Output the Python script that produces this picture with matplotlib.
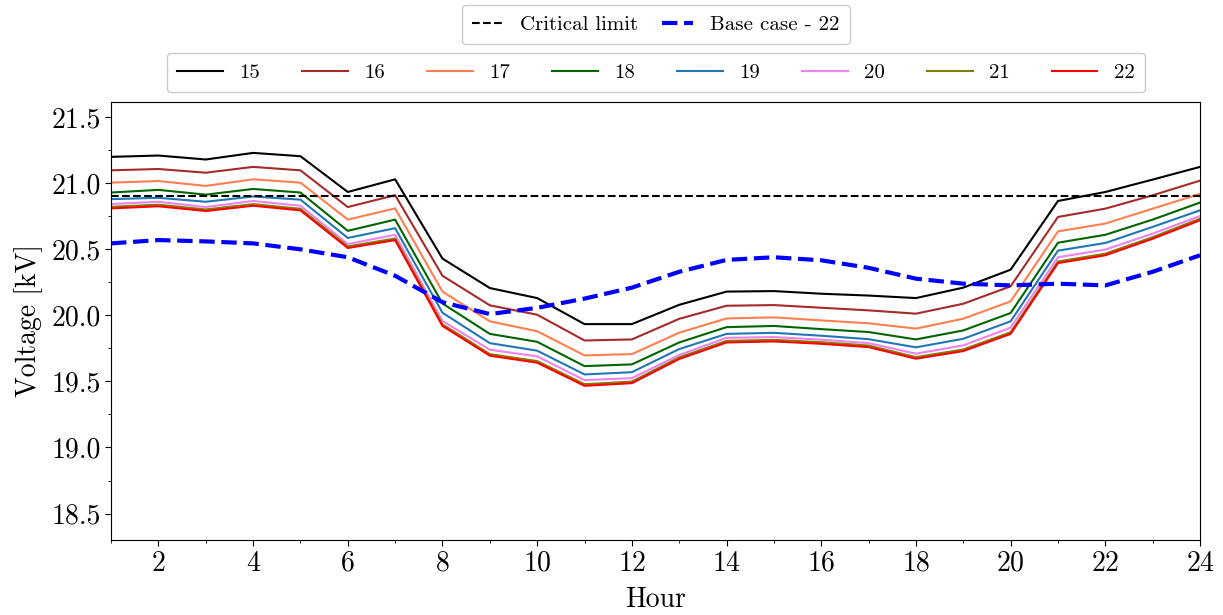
import matplotlib
matplotlib.use("Agg")
import matplotlib.pyplot as plt
from matplotlib.ticker import MultipleLocator
import numpy as np

plt.rcParams['font.family'] = 'serif'
plt.rcParams['font.serif'] = ['cmr10', 'DejaVu Serif']
plt.rcParams['mathtext.fontset'] = 'cm'
plt.rcParams['axes.formatter.use_mathtext'] = True

hours = list(range(1, 25))

v15 = [21.20, 21.21, 21.18, 21.23, 21.205, 20.934, 21.03, 20.43, 20.207, 20.131, 19.934, 19.934,
       20.08, 20.18, 20.184, 20.164, 20.15, 20.131, 20.21, 20.346, 20.866, 20.934, 21.028, 21.124]
v16 = [21.098, 21.108, 21.08, 21.124, 21.098, 20.82, 20.91, 20.30, 20.076, 20.005, 19.81, 19.818,
       19.974, 20.073, 20.078, 20.058, 20.038, 20.013, 20.088, 20.22, 20.745, 20.808, 20.909, 21.02]
v17 = [21.005, 21.017, 20.98, 21.03, 21.005, 20.725, 20.81, 20.18, 19.955, 19.88, 19.697, 19.707,
       19.869, 19.977, 19.985, 19.962, 19.94, 19.90, 19.975, 20.106, 20.636, 20.695, 20.808, 20.92]
v18 = [20.93, 20.95, 20.914, 20.957, 20.93, 20.64, 20.725, 20.09, 19.86, 19.80, 19.616, 19.629,
       19.795, 19.911, 19.92, 19.896, 19.874, 19.818, 19.886, 20.018, 20.55, 20.61, 20.725, 20.854]
v19 = [20.88, 20.89, 20.86, 20.90, 20.876, 20.586, 20.66, 20.02, 19.79, 19.733, 19.553, 19.57,
       19.745, 19.86, 19.868, 19.846, 19.82, 19.758, 19.823, 19.955, 20.49, 20.548, 20.67, 20.795]
v20 = [20.843, 20.86, 20.82, 20.866, 20.83, 20.54, 20.61, 19.957, 19.74, 19.69, 19.51, 19.525,
       19.70, 19.83, 19.836, 19.816, 19.79, 19.71, 19.773, 19.907, 20.44, 20.498, 20.619, 20.752]
v21 = [20.822, 20.838, 20.802, 20.842, 20.807, 20.522, 20.582, 19.932, 19.707, 19.654, 19.479, 19.499,
       19.682, 19.807, 19.815, 19.797, 19.772, 19.684, 19.742, 19.872, 20.408, 20.467, 20.592, 20.732]
v22 = [20.81, 20.826, 20.79, 20.83, 20.795, 20.51, 20.57, 19.92, 19.695, 19.642, 19.467, 19.487,
       19.67, 19.795, 19.803, 19.785, 19.76, 19.672, 19.73, 19.86, 20.396, 20.455, 20.58, 20.72]
base22 = [20.545, 20.57, 20.56, 20.545, 20.50, 20.44, 20.30, 20.10, 20.01, 20.057, 20.127, 20.21,
          20.33, 20.42, 20.44, 20.417, 20.36, 20.278, 20.24, 20.227, 20.24, 20.227, 20.33, 20.455]
critical_limit = 20.9

series = [("15", v15, "black"), ("16", v16, "brown"), ("17", v17, "coral"),
          ("18", v18, "darkgreen"), ("19", v19, "tab:blue"), ("20", v20, "violet"),
          ("21", v21, "olive"), ("22", v22, "red")]

fig = plt.figure(figsize=(12.23, 6.15), dpi=100)
ax = fig.add_axes([0.0908, 0.122, 0.8904, 0.7121])

handles = []
for label, vals, col in series:
    h, = ax.plot(hours, vals, color=col, lw=1.5, label=label)
    handles.append(h)

hc = ax.axhline(critical_limit, color='black', ls='--', lw=1.5, label='Critical limit')
hb, = ax.plot(hours, base22, color='blue', ls='--', lw=3, label='Base case - 22')

ax.set_xlim(1, 24)
ax.set_ylim(18.3, 21.615)
ax.xaxis.set_major_locator(MultipleLocator(2))
ax.xaxis.set_minor_locator(MultipleLocator(1))
ax.yaxis.set_major_locator(MultipleLocator(0.5))
ax.yaxis.set_minor_locator(MultipleLocator(0.25))
ax.yaxis.set_major_formatter(matplotlib.ticker.FormatStrFormatter('%.1f'))
ax.tick_params(axis='both', which='major', labelsize=20, length=4)
ax.tick_params(axis='both', which='minor', length=2.5)
ax.set_xlabel('Hour', fontsize=20, labelpad=7)
ax.set_ylabel('Voltage [kV]', fontsize=20, labelpad=6)

fig.legend(handles=handles, loc='upper center', ncol=8, fontsize=15,
           bbox_to_anchor=(0.5364, 1 - 53 / 615), borderaxespad=0,
           columnspacing=2.0, handlelength=2.2, borderpad=0.5, framealpha=1)
fig.legend(handles=[hc, hb], loc='upper center', ncol=2, fontsize=15,
           bbox_to_anchor=(0.536, 1 - 5 / 615), borderaxespad=0,
           columnspacing=1.15, handlelength=1.5, borderpad=0.5, framealpha=1)

fig.savefig('out.png', dpi=100)
